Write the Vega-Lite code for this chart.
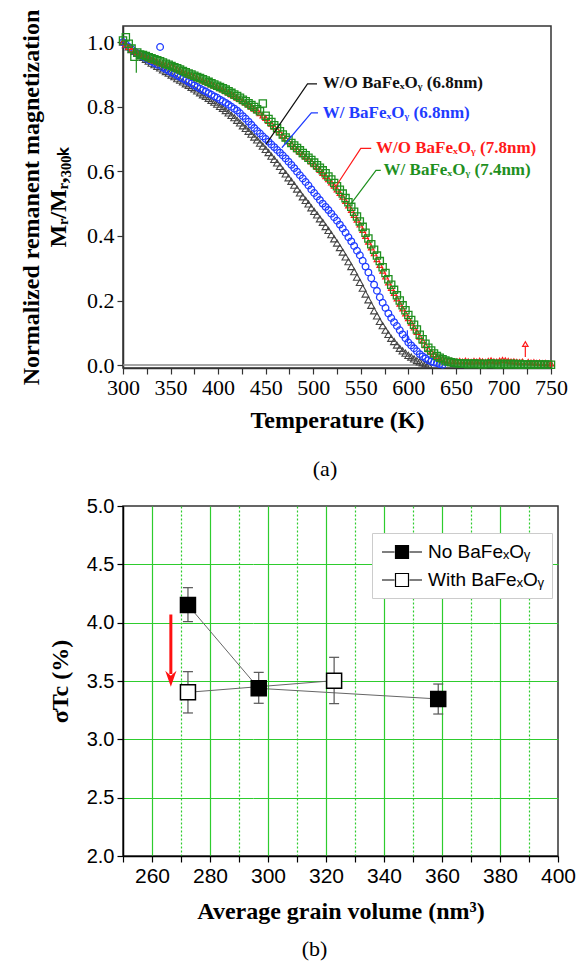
{
"$schema": "https://vega.github.io/schema/vega-lite/v6.json",
"background": "white",
"padding": {"left": 18, "top": 8, "right": 0, "bottom": 0},
"spacing": 14,
"resolve": {"legend": {"fill": "independent", "color": "independent"}},
"config": {"view": {"stroke": "#333", "strokeWidth": 1.5}},
"datasets": {
"curves": [
{"T":300,"k":1.000,"b":1.000,"r":1.000,"g":1.005},
{"T":303,"k":0.992,"b":0.993,"r":0.993,"g":1.015},
{"T":306,"k":0.985,"b":0.985,"r":0.985,"g":0.995},
{"T":309,"k":0.977,"b":0.978,"r":0.978,"g":0.980},
{"T":312,"k":0.971,"b":0.971,"r":0.972,"g":0.955},
{"T":315,"k":0.965,"b":0.966,"r":0.968,"g":0.968},
{"T":318,"k":0.959,"b":0.961,"r":0.963,"g":0.962},
{"T":321,"k":0.953,"b":0.955,"r":0.959,"g":0.960},
{"T":324,"k":0.947,"b":0.950,"r":0.954,"g":0.957},
{"T":327,"k":0.941,"b":0.945,"r":0.950,"g":0.953},
{"T":330,"k":0.935,"b":0.940,"r":0.945,"g":0.950},
{"T":333,"k":0.930,"b":0.935,"r":0.942,"g":0.947},
{"T":336,"k":0.925,"b":0.930,"r":0.939,"g":0.944},
{"T":339,"k":0.920,"b":0.985,"r":0.936,"g":0.941},
{"T":342,"k":0.914,"b":0.921,"r":0.933,"g":0.937},
{"T":345,"k":0.909,"b":0.916,"r":0.930,"g":0.933},
{"T":348,"k":0.904,"b":0.911,"r":0.927,"g":0.930},
{"T":351,"k":0.898,"b":0.906,"r":0.924,"g":0.926},
{"T":354,"k":0.893,"b":0.902,"r":0.920,"g":0.922},
{"T":357,"k":0.887,"b":0.897,"r":0.916,"g":0.919},
{"T":360,"k":0.882,"b":0.892,"r":0.912,"g":0.915},
{"T":363,"k":0.877,"b":0.887,"r":0.908,"g":0.911},
{"T":366,"k":0.871,"b":0.882,"r":0.904,"g":0.907},
{"T":369,"k":0.866,"b":0.877,"r":0.899,"g":0.903},
{"T":372,"k":0.860,"b":0.872,"r":0.896,"g":0.900},
{"T":375,"k":0.855,"b":0.866,"r":0.892,"g":0.896},
{"T":378,"k":0.849,"b":0.861,"r":0.888,"g":0.892},
{"T":381,"k":0.843,"b":0.856,"r":0.885,"g":0.889},
{"T":384,"k":0.837,"b":0.851,"r":0.881,"g":0.885},
{"T":387,"k":0.832,"b":0.847,"r":0.877,"g":0.881},
{"T":390,"k":0.826,"b":0.842,"r":0.873,"g":0.877},
{"T":393,"k":0.820,"b":0.837,"r":0.869,"g":0.873},
{"T":396,"k":0.814,"b":0.832,"r":0.865,"g":0.869},
{"T":399,"k":0.808,"b":0.828,"r":0.861,"g":0.865},
{"T":402,"k":0.801,"b":0.822,"r":0.857,"g":0.861},
{"T":405,"k":0.795,"b":0.817,"r":0.853,"g":0.857},
{"T":408,"k":0.788,"b":0.812,"r":0.848,"g":0.853},
{"T":411,"k":0.781,"b":0.806,"r":0.843,"g":0.848},
{"T":414,"k":0.773,"b":0.800,"r":0.838,"g":0.843},
{"T":417,"k":0.766,"b":0.794,"r":0.833,"g":0.838},
{"T":420,"k":0.758,"b":0.788,"r":0.828,"g":0.833},
{"T":423,"k":0.750,"b":0.780,"r":0.823,"g":0.828},
{"T":426,"k":0.741,"b":0.771,"r":0.817,"g":0.822},
{"T":429,"k":0.733,"b":0.763,"r":0.812,"g":0.817},
{"T":432,"k":0.724,"b":0.754,"r":0.806,"g":0.811},
{"T":435,"k":0.715,"b":0.744,"r":0.800,"g":0.805},
{"T":438,"k":0.706,"b":0.734,"r":0.794,"g":0.799},
{"T":441,"k":0.697,"b":0.725,"r":0.788,"g":0.792},
{"T":444,"k":0.687,"b":0.717,"r":0.780,"g":0.786},
{"T":447,"k":0.678,"b":0.708,"r":0.773,"g":0.810},
{"T":450,"k":0.668,"b":0.700,"r":0.765,"g":0.772},
{"T":453,"k":0.658,"b":0.692,"r":0.756,"g":0.762},
{"T":456,"k":0.647,"b":0.683,"r":0.747,"g":0.753},
{"T":459,"k":0.637,"b":0.675,"r":0.738,"g":0.743},
{"T":462,"k":0.626,"b":0.666,"r":0.729,"g":0.734},
{"T":465,"k":0.615,"b":0.658,"r":0.720,"g":0.724},
{"T":468,"k":0.603,"b":0.649,"r":0.711,"g":0.714},
{"T":471,"k":0.592,"b":0.640,"r":0.702,"g":0.705},
{"T":474,"k":0.580,"b":0.630,"r":0.693,"g":0.697},
{"T":477,"k":0.569,"b":0.620,"r":0.685,"g":0.688},
{"T":480,"k":0.557,"b":0.610,"r":0.676,"g":0.680},
{"T":483,"k":0.545,"b":0.599,"r":0.668,"g":0.672},
{"T":486,"k":0.533,"b":0.588,"r":0.660,"g":0.665},
{"T":489,"k":0.521,"b":0.578,"r":0.653,"g":0.657},
{"T":492,"k":0.510,"b":0.567,"r":0.645,"g":0.650},
{"T":495,"k":0.499,"b":0.556,"r":0.638,"g":0.642},
{"T":498,"k":0.487,"b":0.544,"r":0.630,"g":0.635},
{"T":501,"k":0.476,"b":0.533,"r":0.622,"g":0.627},
{"T":504,"k":0.465,"b":0.522,"r":0.613,"g":0.619},
{"T":507,"k":0.453,"b":0.511,"r":0.604,"g":0.611},
{"T":510,"k":0.442,"b":0.500,"r":0.595,"g":0.603},
{"T":513,"k":0.429,"b":0.490,"r":0.585,"g":0.594},
{"T":516,"k":0.417,"b":0.480,"r":0.575,"g":0.584},
{"T":519,"k":0.404,"b":0.469,"r":0.565,"g":0.575},
{"T":522,"k":0.391,"b":0.458,"r":0.555,"g":0.564},
{"T":525,"k":0.378,"b":0.447,"r":0.544,"g":0.554},
{"T":528,"k":0.364,"b":0.435,"r":0.533,"g":0.543},
{"T":531,"k":0.350,"b":0.423,"r":0.521,"g":0.531},
{"T":534,"k":0.335,"b":0.410,"r":0.508,"g":0.517},
{"T":537,"k":0.320,"b":0.396,"r":0.494,"g":0.504},
{"T":540,"k":0.305,"b":0.383,"r":0.480,"g":0.490},
{"T":543,"k":0.289,"b":0.369,"r":0.465,"g":0.475},
{"T":546,"k":0.272,"b":0.354,"r":0.450,"g":0.460},
{"T":549,"k":0.256,"b":0.340,"r":0.435,"g":0.445},
{"T":552,"k":0.238,"b":0.323,"r":0.418,"g":0.428},
{"T":555,"k":0.220,"b":0.305,"r":0.400,"g":0.410},
{"T":558,"k":0.202,"b":0.287,"r":0.382,"g":0.392},
{"T":561,"k":0.185,"b":0.269,"r":0.364,"g":0.374},
{"T":564,"k":0.168,"b":0.249,"r":0.346,"g":0.357},
{"T":567,"k":0.152,"b":0.230,"r":0.328,"g":0.339},
{"T":570,"k":0.135,"b":0.210,"r":0.310,"g":0.322},
{"T":573,"k":0.122,"b":0.193,"r":0.292,"g":0.303},
{"T":576,"k":0.108,"b":0.177,"r":0.274,"g":0.285},
{"T":579,"k":0.095,"b":0.160,"r":0.256,"g":0.266},
{"T":582,"k":0.083,"b":0.146,"r":0.239,"g":0.249},
{"T":585,"k":0.073,"b":0.133,"r":0.223,"g":0.233},
{"T":588,"k":0.062,"b":0.121,"r":0.206,"g":0.216},
{"T":591,"k":0.052,"b":0.108,"r":0.190,"g":0.200},
{"T":594,"k":0.044,"b":0.095,"r":0.175,"g":0.185},
{"T":597,"k":0.037,"b":0.083,"r":0.160,"g":0.170},
{"T":600,"k":0.030,"b":0.070,"r":0.145,"g":0.155},
{"T":603,"k":0.025,"b":0.061,"r":0.131,"g":0.140},
{"T":606,"k":0.019,"b":0.052,"r":0.116,"g":0.125},
{"T":609,"k":0.014,"b":0.043,"r":0.102,"g":0.110},
{"T":612,"k":0.010,"b":0.034,"r":0.088,"g":0.094},
{"T":615,"k":0.007,"b":0.027,"r":0.075,"g":0.080},
{"T":618,"k":0.004,"b":0.021,"r":0.061,"g":0.066},
{"T":621,"k":0.002,"b":0.015,"r":0.049,"g":0.054},
{"T":624,"b":0.011,"r":0.041,"g":0.045},
{"T":627,"b":0.008,"r":0.034,"g":0.036},
{"T":630,"b":0.006,"r":0.027,"g":0.028},
{"T":633,"b":0.003,"r":0.022,"g":0.023},
{"T":636,"b":0.001,"r":0.018,"g":0.018},
{"T":639,"r":0.015,"g":0.014},
{"T":642,"r":0.013,"g":0.011},
{"T":645,"r":0.013,"g":0.009},
{"T":648,"r":0.012,"g":0.007},
{"T":651,"r":0.012,"g":0.006},
{"T":654,"r":0.013,"g":0.005},
{"T":657,"r":0.011,"g":0.004},
{"T":660,"r":0.014,"g":0.005},
{"T":663,"r":0.012,"g":0.003},
{"T":666,"r":0.010,"g":0.004},
{"T":669,"r":0.013,"g":0.005},
{"T":672,"r":0.011,"g":0.003},
{"T":675,"r":0.014,"g":0.004},
{"T":678,"r":0.012,"g":0.002},
{"T":681,"r":0.010,"g":0.004},
{"T":684,"r":0.013,"g":0.003},
{"T":687,"r":0.015,"g":0.005},
{"T":690,"r":0.012,"g":0.004},
{"T":693,"r":0.011,"g":0.002},
{"T":696,"r":0.014,"g":0.003},
{"T":699,"r":0.016,"g":0.004},
{"T":702,"r":0.015,"g":0.003},
{"T":705,"r":0.013,"g":0.002},
{"T":708,"r":0.011,"g":0.004},
{"T":711,"r":0.012,"g":0.003},
{"T":714,"r":0.010,"g":0.002},
{"T":717,"r":0.009,"g":0.003},
{"T":720,"r":0.011,"g":0.002},
{"T":723,"r":0.065,"g":0.001},
{"T":726,"r":0.010,"g":0.002},
{"T":729,"r":0.008,"g":0.001},
{"T":732,"r":0.009,"g":0.002},
{"T":735,"r":0.007,"g":0.001},
{"T":738,"r":0.008,"g":0.002},
{"T":741,"r":0.006,"g":0.001},
{"T":744,"r":0.007,"g":0.002},
{"T":747,"r":0.005,"g":0.001},
{"T":750,"r":0.005,"g":0.001}
],
"zero": [{"T":300,"T2":750,"z":0}],
"errs": [
{"s":"g","T":314,"lo":0.905,"hi":0.975},
{"s":"b","T":599,"lo":0.068,"hi":0.108},
{"s":"r","T":723,"lo":0.025,"hi":0.06}
],
"paths": [
{"s":"k","id":"k","T":504,"M":0.871},{"s":"k","id":"k","T":494,"M":0.871},{"s":"k","id":"k","T":450.5,"M":0.684},
{"s":"b","id":"b","T":505,"M":0.781},{"s":"b","id":"b","T":498,"M":0.781},{"s":"b","id":"b","T":467,"M":0.673},
{"s":"r","id":"r","T":561,"M":0.671},{"s":"r","id":"r","T":550,"M":0.671},{"s":"r","id":"r","T":523,"M":0.55},
{"s":"g","id":"g","T":571,"M":0.603},{"s":"g","id":"g","T":566,"M":0.603},{"s":"g","id":"g","T":539,"M":0.497}
],
"labels": [
{"s":"k","T":510,"M":0.874,"text":"W/O BaFeₓOᵧ (6.8nm)"},
{"s":"b","T":510,"M":0.781,"text":"W/ BaFeₓOᵧ (6.8nm)"},
{"s":"r","T":566,"M":0.673,"text":"W/O BaFeₓOᵧ (7.8nm)"},
{"s":"g","T":574,"M":0.603,"text":"W/ BaFeₓOᵧ (7.4nm)"}
],
"sig": [
{"g":"No BaFeₓOᵧ","v":272.4,"sv":4.151,"lo":4.009,"hi":4.30},
{"g":"No BaFeₓOᵧ","v":296.8,"sv":3.437,"lo":3.309,"hi":3.574},
{"g":"No BaFeₓOᵧ","v":358.7,"sv":3.346,"lo":3.217,"hi":3.474},
{"g":"With BaFeₓOᵧ","v":272.4,"sv":3.403,"lo":3.226,"hi":3.58},
{"g":"With BaFeₓOᵧ","v":322.8,"sv":3.503,"lo":3.306,"hi":3.703}
],
"arrow": [{"v":266.5,"y1":4.07,"y2":3.56,"tip":3.45}]
},
"vconcat": [
{
"width": 428, "height": 342,
"title": {"text": "(a)", "orient": "bottom", "anchor": "middle", "font": "Liberation Serif", "fontSize": 22, "fontWeight": "normal", "color": "black", "offset": 27, "dx": -12},
"encoding": {"x": {"field": "T", "type": "quantitative", "scale": {"domain": [300, 750], "nice": false, "zero": false},
   "axis": {"title": "Temperature (K)", "values": [300,325,350,375,400,425,450,475,500,525,550,575,600,625,650,675,700,725,750],
    "labelExpr": "datum.value % 50 === 0 ? format(datum.value, 'd') : ''",
    "tickSize": 6,
    "labelFont": "Liberation Serif", "labelFontSize": 22, "labelColor": "black", "labelPadding": 3,
    "titleFont": "Liberation Serif", "titleFontSize": 24, "titleFontWeight": "bold", "titleColor": "black", "titlePadding": 10,
    "domainColor": "#333", "domainWidth": 1.5, "tickColor": "#333", "tickWidth": 1.2, "grid": false, "labelFlush": false, "labelOverlap": false}}},
"layer": [
{"data": {"name": "zero"}, "mark": {"type": "rule", "color": "#888", "strokeWidth": 1.5},
 "encoding": {"x2": {"field": "T2"}, "y": {"field": "z", "type": "quantitative", "scale": {"domain": [-0.009, 1.05], "nice": false, "zero": false},
   "axis": {"title": ["Normalized remanent magnetization", "Mᵣ/Mᵣ,₃₀₀ₖ"], "values": [0,0.1,0.2,0.3,0.4,0.5,0.6,0.7,0.8,0.9,1.0],
    "labelExpr": "round(datum.value*10) % 2 === 0 ? format(datum.value, '.1f') : ''",
    "tickSize": 6,
    "labelFont": "Liberation Serif", "labelFontSize": 22, "labelColor": "black", "labelPadding": 3,
    "titleFont": "Liberation Serif", "titleFontSize": 24, "titleFontWeight": "bold", "titleColor": "black", "titleLineHeight": 27, "titlePadding": 16,
    "domainColor": "#333", "domainWidth": 1.5, "tickColor": "#333", "tickWidth": 1.2, "grid": false, "labelOverlap": false, "labelFlush": false}}}},
{"data": {"name": "curves"}, "mark": {"type": "point", "shape": "triangle-up", "filled": false, "color": "#444", "size": 50, "strokeWidth": 1.1, "opacity": 1},
 "encoding": {"y": {"field": "k", "type": "quantitative", "scale": {"domain": [-0.009, 1.05], "nice": false, "zero": false}}}},
{"data": {"name": "curves"}, "mark": {"type": "point", "shape": "circle", "filled": false, "color": "#1f3cff", "size": 44, "strokeWidth": 1.3, "opacity": 1},
 "encoding": {"y": {"field": "b", "type": "quantitative", "scale": {"domain": [-0.009, 1.05], "nice": false, "zero": false}}}},
{"data": {"name": "curves"}, "mark": {"type": "point", "shape": "triangle-up", "filled": false, "color": "#ff1a1a", "size": 30, "strokeWidth": 1.2, "opacity": 1},
 "encoding": {"y": {"field": "r", "type": "quantitative", "scale": {"domain": [-0.009, 1.05], "nice": false, "zero": false}}}},
{"data": {"name": "curves"}, "mark": {"type": "point", "shape": "square", "filled": false, "color": "#1f901f", "size": 52, "strokeWidth": 1.3, "opacity": 1},
 "encoding": {"y": {"field": "g", "type": "quantitative", "scale": {"domain": [-0.009, 1.05], "nice": false, "zero": false}}}},
{"data": {"name": "errs"}, "mark": {"type": "rule", "strokeWidth": 1.2},
 "encoding": {"y": {"field": "lo", "type": "quantitative", "scale": {"domain": [-0.009, 1.05], "nice": false, "zero": false}},
  "y2": {"field": "hi"},
  "color": {"field": "s", "type": "nominal", "scale": {"domain": ["k","b","r","g"], "range": ["#111111","#1f3cff","#ff1a1a","#1f901f"]}, "legend": null}}},
{"data": {"name": "paths"}, "mark": {"type": "line", "strokeWidth": 1.2},
 "encoding": {"y": {"field": "M", "type": "quantitative", "scale": {"domain": [-0.009, 1.05], "nice": false, "zero": false}},
  "detail": {"field": "id"},
  "color": {"field": "s", "type": "nominal", "scale": {"domain": ["k","b","r","g"], "range": ["#111111","#1f3cff","#ff1a1a","#1f901f"]}, "legend": null}}},
{"data": {"name": "labels"}, "mark": {"type": "text", "align": "left", "baseline": "middle", "font": "Liberation Serif", "fontSize": 17, "fontWeight": "bold"},
 "encoding": {"y": {"field": "M", "type": "quantitative", "scale": {"domain": [-0.009, 1.05], "nice": false, "zero": false}},
  "text": {"field": "text"},
  "color": {"field": "s", "type": "nominal", "scale": {"domain": ["k","b","r","g"], "range": ["#111111","#1f3cff","#ff1a1a","#1f901f"]}, "legend": null}}}
]
},
{
"width": 435, "height": 350,
"title": {"text": "(b)", "orient": "bottom", "anchor": "middle", "font": "Liberation Serif", "fontSize": 22, "fontWeight": "normal", "color": "black", "offset": 16, "dx": -26},
"encoding": {"x": {"field": "v", "type": "quantitative", "scale": {"domain": [250, 400], "nice": false, "zero": false},
   "axis": {"title": "Average grain volume (nm³)", "values": [250,260,270,280,290,300,310,320,330,340,350,360,370,380,390,400],
    "labelExpr": "round(datum.value/10) % 2 === 0 && datum.value > 255 ? format(datum.value, 'd') : ''",
    "tickSize": 6,
    "grid": true, "gridColor": "#2ecc2e", "gridWidth": 1.2,
    "gridDash": {"condition": {"test": "round(datum.value/10) % 2 === 0", "value": [10, 0]}, "value": [2, 2]},
    "gridOpacity": {"condition": {"test": "datum.value < 255 || datum.value > 395", "value": 0}, "value": 1},
    "labelFont": "Liberation Sans", "labelFontSize": 21, "labelColor": "black", "labelPadding": 3,
    "titleFont": "Liberation Serif", "titleFontSize": 24, "titleFontWeight": "bold", "titleColor": "black", "titlePadding": 13,
    "domainColor": "black", "domainWidth": 1.5, "tickColor": "black", "tickWidth": 1.2, "labelFlush": false, "labelOverlap": false}}},
"layer": [
{"data": {"name": "sig"}, "mark": {"type": "line", "color": "#666", "strokeWidth": 1},
 "encoding": {
  "y": {"field": "sv", "type": "quantitative", "scale": {"domain": [2, 5], "nice": false, "zero": false},
   "axis": {"title": "σTc (%)", "values": [2,2.25,2.5,2.75,3,3.25,3.5,3.75,4,4.25,4.5,4.75,5],
    "labelExpr": "round(datum.value*4) % 2 === 0 ? format(datum.value, '.1f') : ''",
    "tickSize": 6,
    "grid": true, "gridColor": "#2ecc2e", "gridWidth": 1.2,
    "gridDash": {"condition": {"test": "round(datum.value*4) % 2 === 0", "value": [10, 0]}, "value": [2, 2]},
    "gridOpacity": {"condition": {"test": "datum.value < 2.1 || datum.value > 4.9", "value": 0}, "value": 1},
    "labelFont": "Liberation Sans", "labelFontSize": 20, "labelColor": "black", "labelPadding": 3,
    "titleFont": "Liberation Serif", "titleFontSize": 24, "titleFontWeight": "bold", "titleColor": "black", "titlePadding": 14,
    "domainColor": "black", "domainWidth": 1.5, "tickColor": "black", "tickWidth": 1.2, "labelOverlap": false, "labelFlush": false}},
  "detail": {"field": "g"}}},
{"data": {"name": "sig"}, "mark": {"type": "rule", "color": "#555", "strokeWidth": 1.2},
 "encoding": {"y": {"field": "lo", "type": "quantitative", "scale": {"domain": [2, 5], "nice": false, "zero": false}},
  "y2": {"field": "hi"}}},
{"data": {"name": "sig"}, "mark": {"type": "tick", "orient": "horizontal", "color": "#555", "size": 10, "thickness": 1.2, "opacity": 1},
 "encoding": {"y": {"field": "lo", "type": "quantitative", "scale": {"domain": [2, 5], "nice": false, "zero": false}}}},
{"data": {"name": "sig"}, "mark": {"type": "tick", "orient": "horizontal", "color": "#555", "size": 10, "thickness": 1.2, "opacity": 1},
 "encoding": {"y": {"field": "hi", "type": "quantitative", "scale": {"domain": [2, 5], "nice": false, "zero": false}}}},
{"data": {"name": "sig"}, "mark": {"type": "point", "shape": "square", "filled": true, "stroke": "black", "strokeWidth": 1.5, "size": 225, "opacity": 1},
 "encoding": {"y": {"field": "sv", "type": "quantitative", "scale": {"domain": [2, 5], "nice": false, "zero": false}},
  "fill": {"field": "g", "type": "nominal", "scale": {"domain": ["No BaFeₓOᵧ", "With BaFeₓOᵧ"], "range": ["black", "white"]},
   "legend": {"title": null, "orient": "none", "legendX": 249, "legendY": 27, "fillColor": "white", "strokeColor": "#cccccc", "padding": 8,
    "symbolType": "M-2,0H-0.75M0.75,0H2M-0.65,-0.65H0.65V0.65H-0.65Z", "symbolSize": 400, "symbolStrokeColor": "black", "symbolStrokeWidth": 1.2,
    "symbolOffset": 11, "labelFont": "Liberation Sans", "labelFontSize": 19, "labelColor": "black", "labelOffset": 15, "rowPadding": 7, "cornerRadius": 0}}}},
{"data": {"name": "arrow"}, "mark": {"type": "rule", "color": "#ff1010", "strokeWidth": 3},
 "encoding": {"y": {"field": "y1", "type": "quantitative", "scale": {"domain": [2, 5], "nice": false, "zero": false}},
  "y2": {"field": "y2"}}},
{"data": {"name": "arrow"}, "mark": {"type": "point", "shape": "M0,0L-0.7,-2L0,-1.4L0.7,-2Z", "filled": true, "color": "#ff1010", "size": 256, "opacity": 1},
 "encoding": {"y": {"field": "tip", "type": "quantitative", "scale": {"domain": [2, 5], "nice": false, "zero": false}}}}
]
}
]
}
